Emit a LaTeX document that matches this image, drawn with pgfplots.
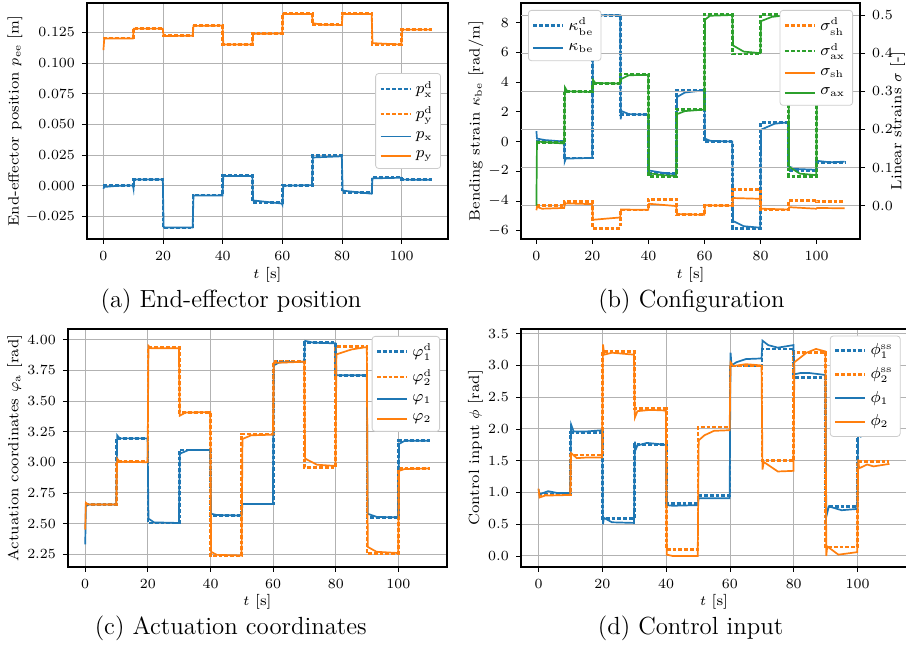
\documentclass[border=0pt]{standalone}
\usepackage{pgfplots}
\pgfplotsset{compat=1.18}
\definecolor{tabblue}{HTML}{1F77B4}
\definecolor{taborange}{HTML}{FF7F0E}
\definecolor{tabgreen}{HTML}{2CA02C}

\pgfplotsset{
  panel/.style={
    scale only axis,
    xmin=-5.5, xmax=115.5,
    xtick={0,20,...,100},
    tick align=outside,
    major tick length=2.5pt,
    tick style={black, line width=0.4pt},
    xtick pos=bottom, ytick pos=left,
    grid style={black!30, line width=0.45pt},
    axis line style={line width=0.55pt},
    font=\fontsize{7.4}{8.5}\selectfont,
    xlabel={$t$ [s]},
    scaled y ticks=false,
    legend cell align=left,
    legend style={draw=black!20, rounded corners=1.5pt, fill=white,
      font=\fontsize{7.6}{9}\selectfont, inner sep=1.8pt, row sep=0.8pt,
      /tikz/every even column/.append style={column sep=1.5pt}},
    legend image code/.code={\draw[##1] (0pt,0pt) -- (15pt,0pt);},
  },
  ylab/.style={every axis y label/.style={at={(axis description cs:#1,0.5)}, rotate=90, anchor=center}},
  xlab/.style={every axis x label/.style={at={(axis description cs:0.5,#1)}, anchor=center}},
  des/.style={line width=1.35pt, dash pattern=on 1.9pt off 1pt},
  act/.style={line width=0.85pt},
}

\begin{document}
\begin{tikzpicture}
\useasboundingbox (0,0) rectangle (453pt,323pt);

% (a) end-effector position
\begin{axis}[panel, at={(43.5pt,203.5pt)}, anchor=south west,
  width=180.5pt, height=118pt,
  ymin=-0.0434, ymax=0.1489,
  ytick={-0.025,0,0.025,0.05,0.075,0.1,0.125},
  yticklabel style={/pgf/number format/.cd, fixed, fixed zerofill, precision=3},
  xmajorgrids, ymajorgrids,
  ylabel={End-effector position $p_{\mathrm{ee}}$ [m]},
  ylab=-0.1994, xlab=-0.1525,
  legend style={at={(1,0.5)}, anchor=east, xshift=-3.5pt},
]
\addplot[des, tabblue, const plot] coordinates {(0,0.000)(10,0.0052)(20,-0.0345)(30,-0.0075)(40,0.0083)(50,-0.0138)(60,0.0003)(70,0.0245)(80,-0.0058)(90,0.0072)(100,0.0053)(110,0.0053)};
\addlegendentry{$p_{\mathrm{x}}^{\mathrm{d}}$}
\addplot[des, taborange, const plot] coordinates {(0,0.1203)(10,0.1280)(20,0.1225)(30,0.1305)(40,0.1152)(50,0.1240)(60,0.1403)(70,0.1312)(80,0.1403)(90,0.1152)(100,0.1275)(110,0.1275)};
\addlegendentry{$p_{\mathrm{y}}^{\mathrm{d}}$}
\addplot[act, tabblue] coordinates {(0,-0.0025)(0.3,-0.0010)(5,0.0000)(9.9,0.0002)(10.1,-0.0025)(10.3,0.0050)(19.9,0.0050)(20.2,-0.0340)(29.9,-0.0340)(30.2,-0.0080)(39.9,-0.0080)(40.2,0.0080)(49.9,0.0080)(50.2,-0.0120)(59.8,-0.0145)(60.0,-0.0155)(60.3,0.0000)(69.9,0.0005)(70.2,0.0230)(79.9,0.0240)(80.2,-0.0040)(89.9,-0.0065)(90.2,0.0060)(99.9,0.0065)(100.2,0.0050)(110,0.0048)};
\addlegendentry{$p_{\mathrm{x}}$}
\addplot[act, taborange] coordinates {(0,0.1105)(0.3,0.1200)(9.9,0.1200)(10.2,0.1280)(19.9,0.1280)(20.2,0.1220)(29.9,0.1222)(30.2,0.1302)(39.9,0.1305)(40.2,0.1150)(49.9,0.1150)(50.2,0.1238)(59.9,0.1240)(60.2,0.1400)(69.9,0.1400)(70.2,0.1325)(73,0.1312)(79.9,0.1310)(80.2,0.1400)(89.9,0.1400)(90.2,0.1162)(99.9,0.1150)(100.2,0.1272)(110,0.1272)};
\addlegendentry{$p_{\mathrm{y}}$}
\end{axis}

% (b) configuration, left axis
\begin{axis}[panel, at={(260.5pt,203.5pt)}, anchor=south west,
  width=169.5pt, height=118pt,
  ymin=-6.56, ymax=9.33,
  ytick={-6,-4,...,8},
  ylabel={Bending strain $\kappa_{\mathrm{be}}$ [rad/m]},
  ylab=-0.1327, xlab=-0.1525,
]
\addplot[des, tabblue, const plot] coordinates {(0,0.0)(10,-1.1)(20,8.5)(30,1.8)(40,-2.15)(50,3.45)(60,0.0)(70,-5.85)(80,1.3)(90,-1.95)(100,-1.4)(110,-1.4)};
\addplot[act, tabblue] coordinates {(0,0.7)(0.2,0.2)(3,0.1)(9.9,0.0)(10.1,-1.35)(10.5,-1.15)(19.9,-1.1)(20.2,8.5)(29.9,8.5)(30.1,1.5)(30.4,2.05)(33,1.85)(39.9,1.8)(40.2,-1.95)(45,-2.1)(49.9,-2.2)(50.2,3.0)(53,3.3)(59.9,3.45)(60.2,0.2)(62,0.05)(69.9,0.0)(70.2,-5.35)(74,-5.7)(79.9,-5.8)(80.2,0.8)(85,1.2)(89.9,1.3)(90.2,-1.7)(93,-1.85)(99.9,-1.9)(100.2,-1.3)(105,-1.4)(110,-1.35)};
\end{axis}

% (b) configuration, right axis
\begin{axis}[panel, at={(260.5pt,203.5pt)}, anchor=south west,
  width=169.5pt, height=118pt,
  hide x axis, axis y line*=right, ytick pos=right,
  ymin=-0.0874, ymax=0.5315,
  ytick={0,0.1,0.2,0.3,0.4,0.5},
  yticklabel style={/pgf/number format/.cd, fixed, fixed zerofill, precision=1},
  ymajorgrids,
  ylabel={Linear strains $\sigma$ [-]},
  ylab=1.111,
  legend style={at={(1,1)}, anchor=north east, xshift=-3.5pt, yshift=-3.5pt},
]
\addplot[des, taborange, const plot] coordinates {(0,0.0)(10,0.010)(20,-0.059)(30,-0.011)(40,0.017)(50,-0.024)(60,0.0)(70,0.043)(80,-0.011)(90,0.014)(100,0.010)(110,0.010)};
\addlegendentry{$\sigma_{\mathrm{sh}}^{\mathrm{d}}$}
\addplot[des, tabgreen, const plot] coordinates {(0,0.165)(10,0.300)(20,0.320)(30,0.345)(40,0.077)(50,0.253)(60,0.502)(70,0.398)(80,0.502)(90,0.077)(100,0.42)(110,0.42)};
\addlegendentry{$\sigma_{\mathrm{ax}}^{\mathrm{d}}$}
\addplot[act, taborange] coordinates {(0,-0.012)(0.2,-0.003)(2,-0.008)(9.9,-0.006)(10.2,0.006)(19.9,0.004)(20.2,-0.037)(25,-0.034)(29.9,-0.031)(30.2,-0.010)(39.9,-0.011)(40.2,0.005)(49.9,-0.001)(50.2,-0.022)(59.9,-0.024)(60.2,0.001)(69.9,0.0)(70.2,0.020)(79.9,0.018)(80.2,-0.008)(89.9,-0.010)(90.2,-0.004)(99.9,-0.008)(100.2,-0.006)(110,-0.007)};
\addlegendentry{$\sigma_{\mathrm{sh}}$}
\addplot[act, tabgreen] coordinates {(0,0.0)(0.2,0.168)(9.9,0.163)(10.2,0.31)(11,0.300)(19.9,0.298)(20.2,0.33)(21,0.322)(29.9,0.320)(30.2,0.332)(33,0.342)(39.9,0.343)(40.2,0.085)(45,0.080)(49.9,0.078)(50.2,0.240)(53,0.248)(59.9,0.252)(60.2,0.488)(62,0.498)(69.9,0.500)(70.2,0.420)(74,0.404)(79.9,0.400)(80.2,0.484)(84,0.495)(89.9,0.500)(90.2,0.102)(94,0.084)(99.9,0.080)(100.2,0.42)(110,0.42)};
\addlegendentry{$\sigma_{\mathrm{ax}}$}
\end{axis}

% (b) legend of the left axis, kept above the grid
\begin{axis}[panel, at={(260.5pt,203.5pt)}, anchor=south west,
  width=169.5pt, height=118pt, hide axis,
  xmin=0, xmax=1, ymin=0, ymax=1,
  legend style={at={(0,1)}, anchor=north west, xshift=3.5pt, yshift=-3.5pt},
]
\addlegendimage{des, tabblue}
\addlegendentry{$\kappa_{\mathrm{be}}^{\mathrm{d}}$}
\addlegendimage{act, tabblue}
\addlegendentry{$\kappa_{\mathrm{be}}$}
\end{axis}

% (c) actuation coordinates
\begin{axis}[panel, at={(34pt,39.5pt)}, anchor=south west,
  width=189.5pt, height=119pt,
  ymin=2.146, ymax=4.087,
  ytick={2.25,2.5,2.75,3,3.25,3.5,3.75,4},
  yticklabel style={/pgf/number format/.cd, fixed, fixed zerofill, precision=2},
  xmajorgrids, ymajorgrids,
  ylabel={Actuation coordinates $\varphi_{\mathrm{a}}$ [rad]},
  ylab=-0.1407, xlab=-0.146,
  legend style={at={(1,1)}, anchor=north east, xshift=-3.5pt, yshift=-3.5pt},
]
\addplot[des, tabblue, const plot] coordinates {(0,2.655)(10,3.195)(20,2.505)(30,3.10)(40,2.565)(50,2.66)(60,3.82)(70,3.975)(80,3.71)(90,2.55)(100,3.175)(110,3.175)};
\addlegendentry{$\varphi_{1}^{\mathrm{d}}$}
\addplot[des, taborange, const plot] coordinates {(0,2.655)(10,3.005)(20,3.935)(30,3.405)(40,2.235)(50,3.23)(60,3.82)(70,2.96)(80,3.945)(90,2.255)(100,2.95)(110,2.95)};
\addlegendentry{$\varphi_{2}^{\mathrm{d}}$}
\addplot[act, tabblue] coordinates {(0,2.33)(0.2,2.64)(1,2.655)(9.9,2.655)(10.2,3.22)(11,3.195)(19.9,3.195)(20.2,2.54)(22,2.51)(29.9,2.505)(30.2,3.07)(33,3.10)(39.9,3.10)(40.2,2.58)(42,2.57)(49.9,2.565)(50.2,2.66)(59.9,2.66)(60.2,3.79)(62,3.815)(69.9,3.82)(70.2,3.99)(73,3.975)(79.9,3.97)(80.2,3.71)(89.9,3.71)(90.2,2.58)(93,2.555)(99.9,2.55)(100.2,3.15)(102,3.175)(110,3.175)};
\addlegendentry{$\varphi_{1}$}
\addplot[act, taborange] coordinates {(0,2.45)(0.2,2.67)(1,2.655)(9.9,2.655)(10.2,3.03)(11,3.005)(19.9,3.0)(20.2,3.95)(21,3.93)(29.9,3.93)(30.2,3.38)(32,3.405)(39.9,3.41)(40.2,2.27)(42,2.245)(49.9,2.24)(50.2,3.19)(53,3.22)(59.9,3.225)(60.2,3.81)(69.9,3.82)(70.2,3.03)(74,2.98)(79.9,2.97)(80.2,3.88)(85,3.92)(89.9,3.94)(90.2,2.31)(93,2.27)(99.9,2.26)(100.2,2.93)(102,2.945)(110,2.95)};
\addlegendentry{$\varphi_{2}$}
\end{axis}

% (d) control input
\begin{axis}[panel, at={(260.5pt,39.5pt)}, anchor=south west,
  width=193pt, height=119pt,
  ymin=-0.174, ymax=3.574,
  ytick={0,0.5,1,1.5,2,2.5,3,3.5},
  yticklabel style={/pgf/number format/.cd, fixed, fixed zerofill, precision=1},
  xmajorgrids, ymajorgrids,
  ylabel={Control input $\phi$ [rad]},
  ylab=-0.118, xlab=-0.146,
  legend style={at={(1,1)}, anchor=north east, xshift=-3.2pt, yshift=-3.3pt},
]
\addplot[des, tabblue, const plot] coordinates {(0,0.97)(10,1.94)(20,0.59)(30,1.75)(40,0.83)(50,0.95)(60,2.99)(70,3.26)(80,2.81)(90,0.78)(100,1.92)(110,1.92)};
\addlegendentry{$\phi_{1}^{\mathrm{ss}}$}
\addplot[des, taborange, const plot] coordinates {(0,0.96)(10,1.59)(20,3.22)(30,2.32)(40,0.10)(50,2.03)(60,2.99)(70,1.50)(80,3.205)(90,0.14)(100,1.49)(110,1.49)};
\addlegendentry{$\phi_{2}^{\mathrm{ss}}$}
\addplot[act, tabblue] coordinates {(0,1.05)(0.3,0.97)(3,1.02)(6,0.99)(9.9,0.99)(10.2,2.07)(11,1.96)(15,1.96)(19.9,1.98)(20.2,0.5)(20.5,0.6)(23,0.53)(29.9,0.52)(30.2,1.8)(30.5,1.68)(31,1.74)(34,1.78)(39.9,1.75)(40.2,0.8)(42,0.79)(49.9,0.80)(50.2,0.91)(59.9,0.91)(60.2,3.2)(60.5,3.0)(62,3.05)(65,3.1)(69.9,3.11)(70.2,3.39)(72,3.32)(75,3.28)(79.9,3.32)(80.2,2.86)(82,2.88)(85,2.88)(89.9,2.85)(90.2,0.62)(91,0.78)(95,0.72)(99.9,0.74)(100.2,2.0)(101,1.88)(103,1.92)(110,1.90)};
\addlegendentry{$\phi_{1}$}
\addplot[act, taborange] coordinates {(0,1.06)(0.3,0.92)(2,0.95)(9.9,0.96)(10.2,1.62)(12,1.54)(15,1.55)(19.9,1.55)(20.2,3.33)(20.6,3.17)(23,3.2)(29.9,3.17)(30.2,2.18)(31,2.28)(35,2.30)(39.9,2.29)(40.2,0.02)(42,0.0)(49.9,0.0)(50.2,1.82)(52,1.90)(55,1.97)(59.9,1.98)(60.2,3.05)(61,2.99)(65,3.02)(69.9,3.0)(70.2,1.36)(70.6,1.48)(75,1.33)(79.9,1.34)(80.2,3.05)(84,3.2)(87,3.26)(89.9,3.22)(90.2,0.0)(90.5,0.15)(94,0.02)(99.9,0.06)(100.2,1.52)(100.5,1.38)(103,1.44)(105,1.41)(110,1.45)};
\addlegendentry{$\phi_{2}$}
\end{axis}

\node[font=\fontsize{12.4}{14}\selectfont] at (115.5pt,172.2pt) {(a) End-effector position};
\node[font=\fontsize{12.4}{14}\selectfont] at (345.7pt,172.2pt) {(b) Configuration};
\node[font=\fontsize{12.4}{14}\selectfont] at (115.4pt,8.8pt) {(c) Actuation coordinates};
\node[font=\fontsize{12.4}{14}\selectfont] at (345.3pt,8.8pt) {(d) Control input};
\end{tikzpicture}
\end{document}
